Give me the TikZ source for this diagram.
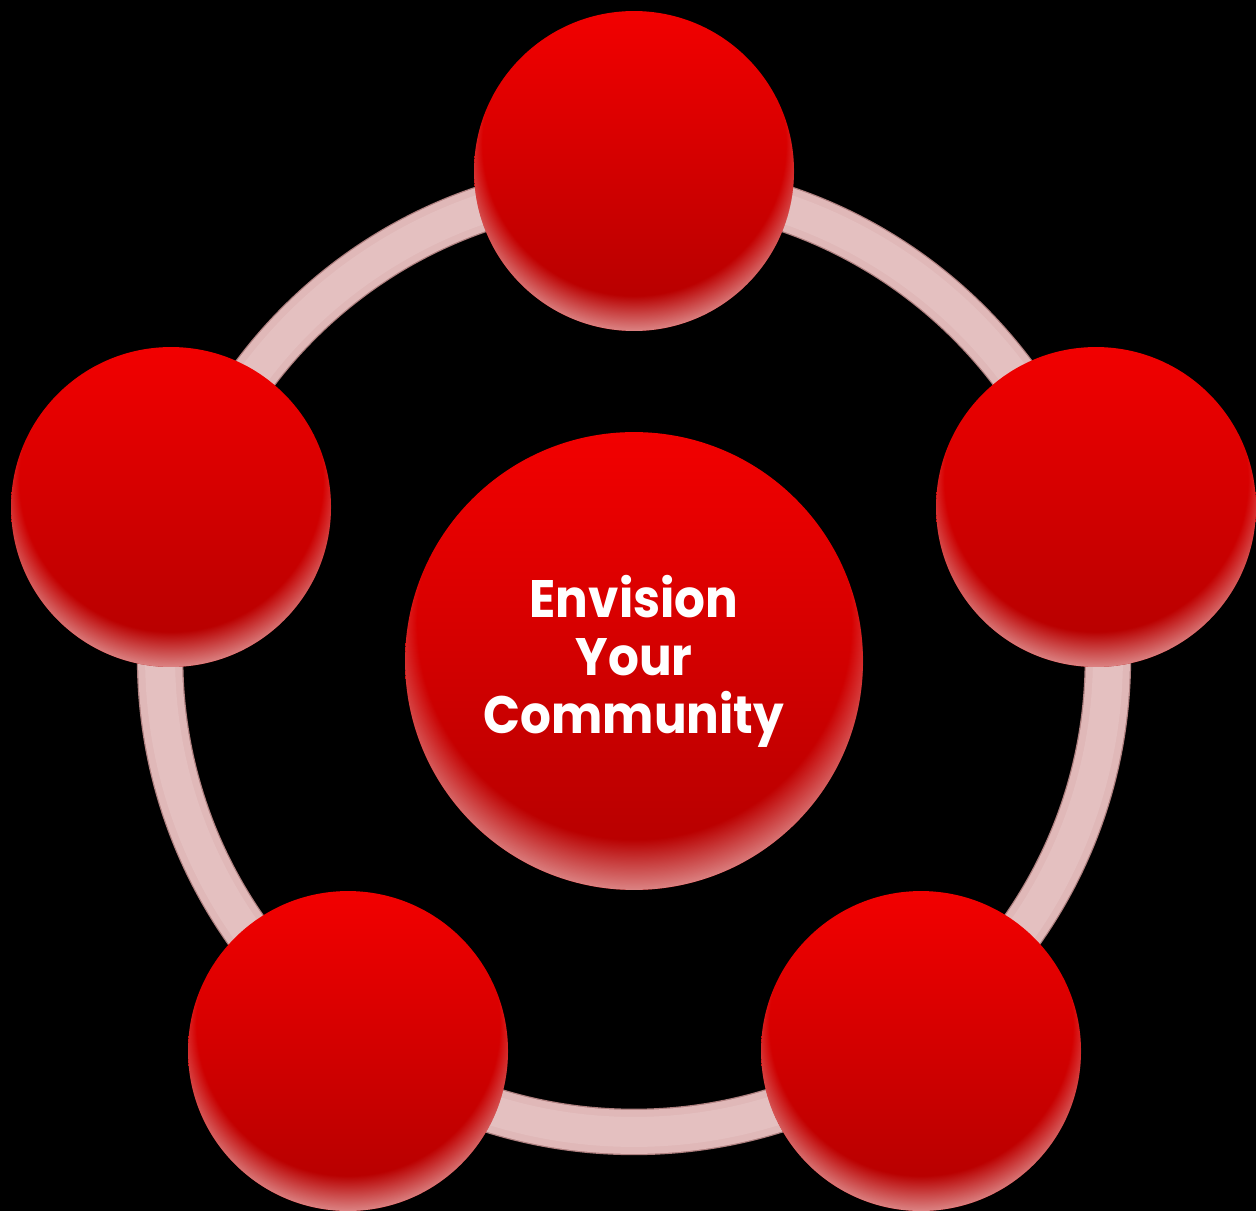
\documentclass[tikz,border=0pt]{standalone}
\usepackage{fontspec}
\newfontfamily\popfont{Poppins}[FakeStretch=0.92]
\usetikzlibrary{fadings}
\definecolor{balltop}{RGB}{242,0,0}
\definecolor{ballbot}{RGB}{178,0,0}
\definecolor{rimcol}{RGB}{226,150,150}
\definecolor{ringA}{RGB}{175,128,128}
\definecolor{ringB}{RGB}{224,184,184}
\definecolor{ringC}{RGB}{228,192,192}
\pgfdeclareradialshading{rimshading}{\pgfpoint{0bp}{8bp}}{color(0bp)=(black); color(23.6bp)=(black); color(26bp)=(black!55!white); color(29bp)=(white); color(50bp)=(white)}
\pgfdeclarefading{rimfade}{\pgfuseshading{rimshading}}
\tikzset{
  ball/.style={circle, inner sep=0pt, top color=balltop, bottom color=ballbot,
    postaction={fill=rimcol, path fading=rimfade}},
  small/.style={ball, minimum size=6.4cm},
  big/.style={ball, minimum size=9.16cm, text=white, align=center,
    font=\popfont\bfseries\fontsize{30}{33}\selectfont},
}
\begin{document}
\begin{tikzpicture}[x=0.02cm,y=-0.02cm]
\fill[black] (0,0) rectangle (1256,1211);
\useasboundingbox (0,0) rectangle (1256,1211);
\coordinate (C) at (634,658);
\draw[ringA, line width=0.93cm] (C) circle (9.48cm);
\draw[ringB, line width=0.88cm] (C) circle (9.48cm);
\draw[ringC, line width=0.6cm] (C) circle (9.48cm);
\node[small] (n1) at (634,171) {};
\node[small] (n2) at (1096,507) {};
\node[small] (n3) at (921,1051) {};
\node[small] (n4) at (348,1051) {};
\node[small] (n5) at (171,507) {};
\node[big] (center) at (634,661) {Envision\\Your\\Community};
\end{tikzpicture}
\end{document}
